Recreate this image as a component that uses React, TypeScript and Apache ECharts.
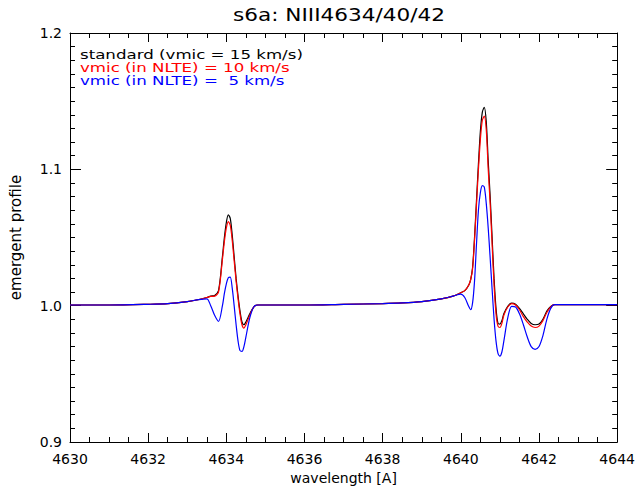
import React, { useEffect, useRef } from "react";
import * as echarts from "echarts";

const wavelengths = [
  4630, 4631, 4632, 4632.5, 4633, 4633.3, 4633.5, 4633.6, 4633.7, 4633.8,
  4633.9, 4633.95, 4634.0, 4634.05, 4634.1, 4634.15, 4634.2, 4634.25, 4634.3, 4634.35,
  4634.4, 4634.45, 4634.5, 4634.6, 4634.7, 4634.8, 4635, 4636, 4637, 4638,
  4638.5, 4639, 4639.5, 4639.8, 4640.0, 4640.1, 4640.2, 4640.25, 4640.3, 4640.35,
  4640.4, 4640.45, 4640.5, 4640.55, 4640.6, 4640.65, 4640.7, 4640.75, 4640.8, 4640.85,
  4640.9, 4640.95, 4641.0, 4641.05, 4641.1, 4641.2, 4641.3, 4641.4, 4641.5, 4641.6,
  4641.7, 4641.8, 4641.9, 4642.0, 4642.1, 4642.2, 4642.3, 4642.4, 4642.5, 4643, 4644,
];

const standard = [
  1.0005, 1.0005, 1.001, 1.0015, 1.003, 1.0045, 1.006, 1.007, 1.0075, 1.011,
  1.036, 1.05, 1.061, 1.0667, 1.064, 1.052, 1.036, 1.02, 1.007, 0.996,
  0.988, 0.986, 0.988, 0.994, 0.999, 1.0005, 1.0005, 1.0005, 1.001, 1.0015,
  1.002, 1.003, 1.005, 1.007, 1.0095, 1.011, 1.015, 1.019, 1.028, 1.05,
  1.077, 1.104, 1.128, 1.142, 1.1455, 1.135, 1.106, 1.08, 1.05, 1.02,
  0.998, 0.987, 0.9865, 0.989, 0.994, 0.9995, 1.0018, 1.001, 0.998, 0.994,
  0.99, 0.987, 0.986, 0.9865, 0.99, 0.996, 0.9995, 1.0007, 1.0007, 1.0007, 1.0007,
];

const vmic10 = [
  1.0005, 1.0005, 1.001, 1.0015, 1.003, 1.0045, 1.006, 1.0068, 1.007, 1.01,
  1.034, 1.047, 1.057, 1.0617, 1.059, 1.048, 1.033, 1.018, 1.005, 0.994,
  0.986, 0.9836, 0.986, 0.993, 0.999, 1.0005, 1.0005, 1.0005, 1.001, 1.0015,
  1.002, 1.003, 1.005, 1.007, 1.0095, 1.011, 1.015, 1.019, 1.027, 1.048,
  1.074, 1.1, 1.122, 1.136, 1.139, 1.129, 1.1, 1.075, 1.045, 1.015,
  0.994, 0.985, 0.984, 0.987, 0.993, 0.999, 1.0015, 1.0005, 0.997, 0.992,
  0.988, 0.985, 0.984, 0.985, 0.989, 0.995, 0.999, 1.0007, 1.0007, 1.0007, 1.0007,
];

const vmic5 = [
  1.0005, 1.0005, 1.001, 1.0015, 1.003, 1.0045, 1.005, 1.0, 0.993, 0.9885,
  1.0, 1.009, 1.016, 1.0205, 1.021, 1.013, 1.0, 0.986, 0.974, 0.967,
  0.9665, 0.97, 0.977, 0.991, 0.999, 1.0005, 1.0005, 1.0005, 1.001, 1.0015,
  1.002, 1.003, 1.005, 1.007, 1.0085, 1.006, 0.9995, 0.997, 1.002, 1.018,
  1.045, 1.07, 1.083, 1.088, 1.087, 1.075, 1.057, 1.035, 1.012, 0.99,
  0.974, 0.965, 0.963, 0.966, 0.974, 0.991, 0.9995, 0.999, 0.994, 0.986,
  0.977, 0.97, 0.968, 0.97, 0.978, 0.99, 0.998, 1.0007, 1.0007, 1.0007, 1.0007,
];

const seriesNames = [
  "standard (vmic = 15 km/s)",
  "vmic (in NLTE) = 10 km/s",
  "vmic (in NLTE) =\u00A0 5 km/s",
];
const seriesColors = ["#000000", "#ff0000", "#0000ff"];
const titleText = "s6a: NIII4634/40/42";
const xName = "wavelength [A]";
const yName = "emergent profile";

const FONT = "DejaVu Sans";

export default function App() {
  const ref = useRef<HTMLDivElement>(null);
  useEffect(() => {
    if (!ref.current) return;
    const chart = echarts.init(ref.current, undefined, { renderer: "svg" });
    const allData = [standard, vmic10, vmic5];
    const axisCommonX = {
      type: "value" as const,
      min: 4630,
      max: 4644,
      interval: 2,
      axisLine: { show: true, lineStyle: { color: "#000", width: 1 } },
      axisTick: { show: true, inside: true, length: 9, lineStyle: { color: "#000" } },
      minorTick: { show: true, splitNumber: 4, length: 5, lineStyle: { color: "#000" } },
      splitLine: { show: false },
      minorSplitLine: { show: false },
    };
    const axisCommonY = {
      type: "value" as const,
      min: 0.9,
      max: 1.2,
      interval: 0.1,
      axisLine: { show: true, lineStyle: { color: "#000", width: 1 } },
      axisTick: { show: true, inside: true, length: 11, lineStyle: { color: "#000" } },
      minorTick: { show: true, splitNumber: 10, length: 5, lineStyle: { color: "#000" } },
      splitLine: { show: false },
      minorSplitLine: { show: false },
    };
    chart.setOption({
      animation: false,
      backgroundColor: "#fff",
      grid: { left: 60, right: 20, top: 33, bottom: 51, containLabel: false },
      xAxis: [
        {
          ...axisCommonX,
          position: "bottom",
          name: xName,
          nameLocation: "middle",
          nameGap: 25,
          nameTextStyle: { fontFamily: FONT, fontSize: 14, color: "#000" },
          axisLabel: {
            show: true,
            margin: 10,
            fontFamily: FONT,
            fontSize: 14,
            color: "#000",
            formatter: (v: number) => String(Math.round(v)),
          },
        },
        {
          ...axisCommonX,
          position: "top",
          axisLabel: { show: false },
        },
      ],
      yAxis: [
        {
          ...axisCommonY,
          position: "left",
          name: yName,
          nameLocation: "middle",
          nameGap: 47,
          nameTextStyle: { fontFamily: FONT, fontSize: 15, color: "#000" },
          axisLabel: {
            show: true,
            margin: 8,
            fontFamily: FONT,
            fontSize: 14,
            color: "#000",
            formatter: (v: number) => v.toFixed(1),
          },
        },
        {
          ...axisCommonY,
          position: "right",
          axisLabel: { show: false },
        },
      ],
      series: allData.map((vals, k) => ({
        type: "line",
        name: seriesNames[k],
        data: wavelengths.map((w, i) => [w, vals[i]]),
        xAxisIndex: 0,
        yAxisIndex: 0,
        showSymbol: false,
        smooth: 0.3,
        lineStyle: { color: seriesColors[k], width: 1.2 },
        z: 2 + k,
      })),
      graphic: [
        {
          type: "text",
          x: 339,
          y: 15,
          scaleX: 1.2,
          z: 10,
          style: {
            text: titleText,
            fill: "#000",
            fontFamily: FONT,
            fontSize: 18,
            align: "center",
            verticalAlign: "middle",
          },
        },
        ...seriesNames.map((n, k) => ({
          type: "text",
          x: 80,
          y: 55 + k * 13,
          scaleX: 1.28,
          z: 10,
          style: {
            text: n,
            fill: seriesColors[k],
            fontFamily: FONT,
            fontSize: 13,
            lineHeight: 12,
            align: "left",
            verticalAlign: "middle",
          },
        })),
      ],
    });
    return () => chart.dispose();
  }, []);
  return (
    <div
      ref={ref}
      style={{ position: "fixed", left: 0, top: 0, width: 638, height: 493, background: "#fff" }}
    />
  );
}
